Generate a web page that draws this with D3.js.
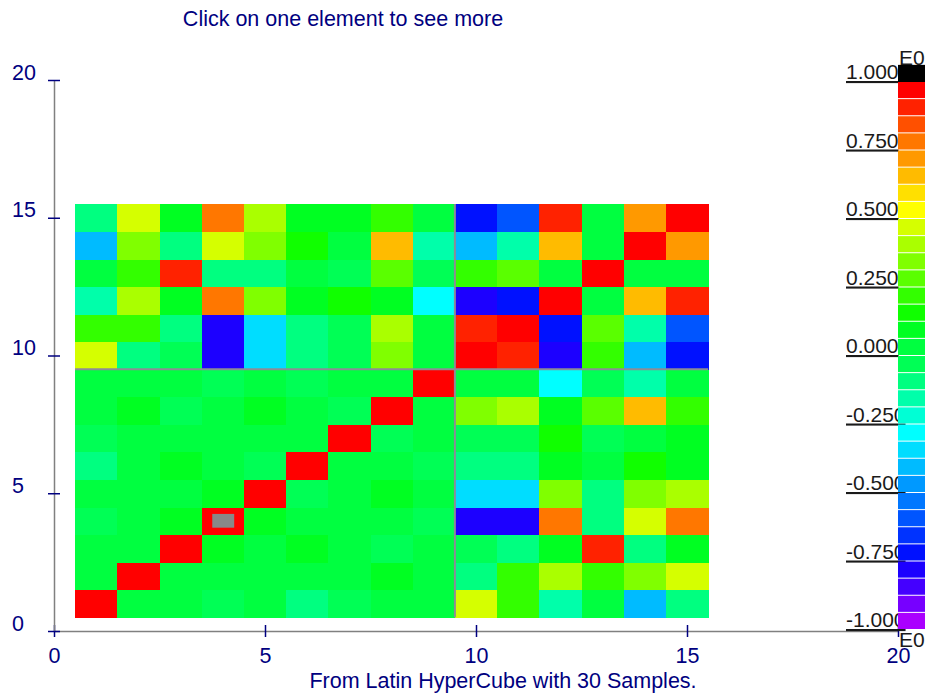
<!DOCTYPE html>
<html>
<head>
<meta charset="utf-8">
<script src="https://cdn.jsdelivr.net/npm/d3@7"></script>
<style>
  body { margin: 0; background: #fff; }
  svg { display: block; font-family: "Liberation Sans", Arial, sans-serif; }
</style>
</head>
<body>
<div id="chart"></div>
<script>
// Correlation matrix, 15 variables (9 inputs + 6 outputs)
// row j = variable j (drawn at y = j), column i = variable i (drawn at x = i)
const corrRows = [
  [ 1.00, 0.03, 0.03,-0.03, 0.03,-0.09,-0.03, 0.03, 0.03, 0.47, 0.22,-0.16, 0.03,-0.41,-0.09],
  [ 0.03, 1.00, 0.03, 0.03, 0.03, 0.03, 0.03, 0.09, 0.03,-0.09, 0.22, 0.41, 0.22, 0.34, 0.47],
  [ 0.03, 0.03, 1.00, 0.09, 0.03, 0.09, 0.03,-0.03, 0.03,-0.03,-0.09, 0.09, 0.91,-0.09, 0.09],
  [-0.03, 0.03, 0.09, 1.00, 0.09, 0.03, 0.03, 0.03,-0.03,-0.78,-0.78, 0.78,-0.09, 0.47, 0.78],
  [ 0.03, 0.03, 0.03, 0.09, 1.00,-0.03, 0.03, 0.09, 0.03,-0.34,-0.34, 0.34,-0.09, 0.34, 0.41],
  [-0.09, 0.03, 0.09, 0.03,-0.03, 1.00, 0.03, 0.03,-0.03,-0.09,-0.09, 0.09, 0.03, 0.16, 0.09],
  [-0.03, 0.03, 0.03, 0.03, 0.03, 0.03, 1.00,-0.03, 0.03,-0.03,-0.03, 0.16,-0.03, 0.03, 0.09],
  [ 0.03, 0.09,-0.03, 0.03, 0.09, 0.03,-0.03, 1.00, 0.03, 0.34, 0.41, 0.09, 0.28, 0.66, 0.22],
  [ 0.03, 0.03, 0.03,-0.03, 0.03,-0.03, 0.03, 0.03, 1.00, 0.03, 0.03,-0.28,-0.03,-0.16, 0.03],
  [ 0.47,-0.09,-0.03,-0.78,-0.34,-0.09,-0.03, 0.34, 0.03, 1.00, 0.91,-0.80, 0.22,-0.41,-0.72],
  [ 0.22, 0.22,-0.09,-0.78,-0.34,-0.09,-0.03, 0.41, 0.03, 0.91, 1.00,-0.72, 0.28,-0.16,-0.59],
  [-0.16, 0.41, 0.09, 0.78, 0.34, 0.09, 0.16, 0.09,-0.28,-0.80,-0.72, 1.00, 0.03, 0.66, 0.91],
  [ 0.03, 0.22, 0.91,-0.09,-0.09, 0.03,-0.03, 0.28,-0.03, 0.22, 0.28, 0.03, 1.00, 0.03, 0.03],
  [-0.41, 0.34,-0.09, 0.47, 0.34, 0.16, 0.03, 0.66,-0.16,-0.41,-0.16, 0.66, 0.03, 1.00, 0.72],
  [-0.09, 0.47, 0.09, 0.78, 0.41, 0.09, 0.09, 0.22, 0.03,-0.72,-0.59, 0.91, 0.03, 0.72, 1.00]
];

// number of input variables (separator drawn after them)
const nInputs = 9;
// selected cell (gray marker)
const selected = [4, 4];

// colour levels from -1 (bottom) to +1 (top), 32 steps
const levelColors = [
  "#aa00ff","#7700ff","#4400ff","#1c00ff","#0011ff","#0033ff","#0055ff","#0077ff",
  "#0099ff","#00bbff","#00ddff","#00ffff","#00ffd5","#00ffaa","#00ff80","#00ff55",
  "#00ff40","#00ff22","#10ff00","#33ff00","#5aff00","#80ff00","#aaff00","#d5ff00",
  "#ffff00","#ffe000","#ffbb00","#ff9900","#ff7700","#ff5000","#ff2200","#ff0000"
];
const legendTicks = [1, 0.75, 0.5, 0.25, 0, -0.25, -0.5, -0.75, -1];
const axisTicks = [0, 5, 10, 15, 20];

const titleText = "Click on one element to see more";
const xTitleText = "From Latin HyperCube with 30 Samples.";

const width = 925, height = 693;
const navy = "#000080";
const fs = 21.5;

const svg = d3.select("#chart").append("svg")
  .attr("width", width)
  .attr("height", height);

const x = d3.scaleLinear().domain([0, 20]).range([54, 898]);
const y = d3.scaleLinear().domain([0, 20]).range([631, 80]);
const color = d3.scaleQuantize().domain([-1, 1]).range(levelColors);

// flatten matrix into cells
const cells = [];
corrRows.forEach((row, j) => {
  row.forEach((v, i) => cells.push({ xi: i + 1, yj: j + 1, v: v }));
});

const cw = x(1) - x(0);
const ch = y(0) - y(1);

// heatmap cells
svg.append("g").selectAll("rect")
  .data(cells)
  .enter()
  .append("rect")
    .attr("x", d => x(d.xi - 0.5))
    .attr("y", d => y(d.yj + 0.5))
    .attr("width", cw + 0.5)
    .attr("height", ch + 0.5)
    .attr("fill", d => color(d.v))
    .attr("shape-rendering", "crispEdges");

// separators between inputs and outputs
const n = corrRows.length;
svg.append("line")
  .attr("x1", x(nInputs + 0.5)).attr("x2", x(nInputs + 0.5))
  .attr("y1", y(0.5)).attr("y2", y(n + 0.5))
  .attr("stroke", "#8c8c96").attr("stroke-width", 2);
svg.append("line")
  .attr("x1", x(0.5)).attr("x2", x(n + 0.5))
  .attr("y1", y(nInputs + 0.5)).attr("y2", y(nInputs + 0.5))
  .attr("stroke", "#8c8c96").attr("stroke-width", 2);

// selection marker
svg.append("rect")
  .attr("x", x(selected[0] - 0.25))
  .attr("y", y(selected[1] + 0.25))
  .attr("width", cw * 0.52)
  .attr("height", ch * 0.5)
  .attr("fill", "#888888");

// axes
const xAxis = svg.append("g")
  .attr("transform", `translate(0,${y(0)})`)
  .call(d3.axisBottom(x).tickValues(axisTicks).tickSize(6).tickSizeOuter(0));
xAxis.select(".domain").attr("stroke", "#808080").attr("stroke-width", 1.5);
xAxis.selectAll(".tick line").attr("stroke", navy).attr("y1", -6).attr("y2", 6).attr("stroke-width", 1.5);
xAxis.selectAll(".tick text")
  .attr("fill", navy)
  .attr("font-size", fs)
  .attr("y", 32)
  .attr("dy", 0);

const yAxis = svg.append("g")
  .attr("transform", `translate(${x(0)},0)`)
  .call(d3.axisLeft(y).tickValues(axisTicks).tickSize(6).tickSizeOuter(0));
yAxis.select(".domain").attr("stroke", "#808080").attr("stroke-width", 1.5);
yAxis.selectAll(".tick line").attr("stroke", navy).attr("x1", -6).attr("x2", 6).attr("stroke-width", 1.5);
yAxis.selectAll(".tick text")
  .attr("fill", navy)
  .attr("font-size", fs)
  .attr("text-anchor", "start")
  .attr("x", 12 - x(0))
  .attr("y", -1)
  .attr("dy", 0);
svg.selectAll(".tick text").attr("font-family", "Liberation Sans, Arial, sans-serif");

// titles
svg.append("text")
  .attr("x", 343).attr("y", 26)
  .attr("text-anchor", "middle")
  .attr("fill", navy)
  .attr("font-size", fs)
  .text(titleText);

svg.append("text")
  .attr("x", 503).attr("y", 688)
  .attr("text-anchor", "middle")
  .attr("fill", navy)
  .attr("font-size", fs)
  .text(xTitleText);

// colour legend
const cb = d3.scaleLinear().domain([-1, 1]).range([630, 82]);
const step = 2 / levelColors.length;
const barX = 898, barW = 30;

svg.append("g").selectAll("text")
  .data(legendTicks)
  .enter()
  .append("text")
    .attr("x", 846)
    .attr("y", d => cb(d) - 3)
    .attr("fill", "#1a1a1a")
    .attr("font-size", 21)
    .style("text-decoration", "underline")
    .text(d => d.toFixed(3));

svg.append("g").selectAll("rect")
  .data(levelColors)
  .enter()
  .append("rect")
    .attr("x", barX)
    .attr("y", (c, k) => cb(-1 + (k + 1) * step))
    .attr("width", barW)
    .attr("height", (c, k) => cb(-1 + k * step) - cb(-1 + (k + 1) * step) - 1)
    .attr("fill", c => c);

// over-range level
svg.append("rect")
  .attr("x", barX)
  .attr("y", cb(1 + step))
  .attr("width", barW)
  .attr("height", cb(1) - cb(1 + step))
  .attr("fill", "#000");

svg.append("text")
  .attr("x", 899).attr("y", 65)
  .attr("fill", "#1a1a1a").attr("font-size", 21)
  .text("E0");
svg.append("text")
  .attr("x", 899).attr("y", 647)
  .attr("fill", "#1a1a1a").attr("font-size", 21)
  .text("E0");
</script>
</body>
</html>
